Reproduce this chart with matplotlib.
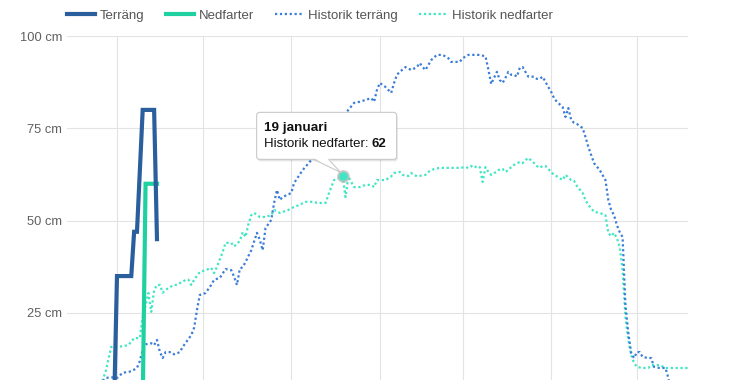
import matplotlib.pyplot as plt
from matplotlib.lines import Line2D
from matplotlib.patches import FancyBboxPatch, Polygon
from matplotlib.transforms import IdentityTransform

plt.rcParams['font.family'] = ['Liberation Sans', 'DejaVu Sans']

# x = days since 1 November (leap-year season), y = snow depth in cm
month_starts = [0, 30, 61, 92, 121, 152, 182]
y_ticks = [25, 50, 75, 100]
y_labels = ['25 cm', '50 cm', '75 cm', '100 cm']

terrang_days = [-1, 0, 5, 6, 7, 9, 13, 14]
terrang_cm = [0, 35, 35, 47, 47, 80, 80, 45]

nedfarter_days = [9, 10, 14]
nedfarter_cm = [0, 60, 60]

hist_terrang_days = [-7, -5, -4, -2, 0, 2, 5, 7, 8, 9, 10, 12, 13, 14, 15, 16, 17, 19, 20, 22,
                     23, 26, 27, 28, 29, 31, 33, 34, 36, 38, 40, 41, 42, 43, 44, 45, 47, 49, 50, 51,
                     52, 54, 55, 56, 57, 58, 61, 62, 65, 68, 70, 75, 81, 83, 85, 87, 89, 90, 91, 92,
                     94, 96, 97, 98, 99, 101, 103, 105, 106, 107, 108, 110, 112, 114, 116, 117, 120, 121, 123, 127,
                     129, 130, 131, 132, 133, 134, 135, 136, 137, 138, 139, 140, 141, 142, 143, 144, 146, 147, 148, 149,
                     150, 151, 152, 153, 154, 156, 157, 158, 159, 160, 161, 163, 164, 165, 166, 167, 169, 171, 172, 173,
                     174, 175, 176, 177, 178, 179, 180, 181, 182, 183, 184, 186, 187, 188, 190, 192, 193, 194]
hist_terrang_cm = [4, 6.5, 7.4, 7.6, 7.4, 8.8, 9.2, 10.1, 12, 15, 16.5, 16.8, 16.3, 17.7, 14.5, 12.8, 14.4, 14.4, 13.8, 14.4,
                   15.8, 19, 21, 25.8, 29.9, 30.4, 32.6, 34, 34.5, 36.9, 36.6, 34.8, 32.6, 37, 37.4, 38.8, 42, 46.7, 44.8, 42,
                   48, 50.2, 54.8, 58.3, 55.6, 56.4, 57.5, 60.2, 63.7, 66.4, 68, 74, 80, 81.9, 82.2, 82.7, 83.2, 82.2, 85.4, 87.3,
                   86.2, 84.6, 87.3, 89.5, 90.3, 91.6, 90.8, 91.6, 92.7, 91.6, 90.8, 93.5, 94.9, 94.9, 94, 93, 93, 94, 94.9, 94.9,
                   94.5, 91, 87, 88.7, 90.3, 88.1, 87.3, 88.7, 90.3, 89.5, 89.5, 89, 91.4, 91.6, 90.3, 89, 89, 88.4, 88.4, 89,
                   87.6, 86.2, 84.9, 83.2, 82.2, 80.8, 78.1, 80.5, 77.3, 76.5, 76.2, 75.1, 72.7, 70, 67.8, 65.6, 63.7, 61, 55.6, 52.9,
                   51.5, 48.8, 46.9, 45.6, 27, 19.6, 14.2, 12.8, 14.4, 14.4, 13.1, 12.8, 12.8, 10.4, 10.1, 10.1, 7.5, 3]

hist_nedfarter_days = [-6, -4, -3, -2, 0, 2, 4, 6, 8, 9, 10, 11, 12, 13, 14, 15, 16, 18, 20, 21,
                       22, 23, 24, 25, 26, 27, 29, 31, 33, 34, 35, 37, 38, 40, 41, 43, 44, 45, 46, 47,
                       48, 50, 52, 54, 55, 57, 60, 61, 64, 66, 69, 70, 73, 75, 76, 78, 79, 80, 81, 82,
                       83, 85, 87, 89, 90, 91, 94, 96, 97, 99, 100, 102, 103, 105, 108, 109, 111, 113, 117, 120,
                       122, 123, 124, 125, 126, 127, 128, 129, 130, 131, 132, 133, 134, 135, 136, 137, 138, 139, 141, 142,
                       143, 144, 146, 147, 148, 149, 150, 152, 153, 154, 156, 157, 159, 160, 161, 163, 164, 165, 167, 169,
                       171, 172, 173, 174, 175, 176, 177, 178, 179, 180, 181, 182, 184, 186, 187, 190, 192, 201]
hist_nedfarter_cm = [5, 9, 12.5, 15.8, 15.8, 16, 16.3, 18.2, 18.2, 24, 27, 30.4, 25.3, 31.2, 32.6, 32.6, 30.5, 31.8, 32.6, 32.6,
                     33.1, 33.4, 34, 34, 32.6, 34, 36.1, 36.6, 37.2, 35.8, 37.5, 41.5, 44, 44, 43, 44.5, 46.9, 45.6, 49, 51.5,
                     52.1, 51, 51, 51.5, 52.9, 52.1, 52.9, 53.4, 54.3, 55.1, 55.1, 54.8, 54.8, 59.1, 61, 61.6, 62, 56.4, 62, 60.5,
                     59.1, 59.1, 59.7, 59.7, 59.1, 61, 61, 62, 62.9, 63.2, 62.4, 62.1, 62.9, 62, 62.4, 63.2, 64, 64.3, 64.3, 64.3,
                     64.5, 64.3, 64.8, 64.3, 64.8, 64.5, 60.5, 64.5, 63.2, 62.4, 62.9, 63.2, 64, 64, 63.2, 63.7, 64.5, 65.1, 65.9, 65.6,
                     66.4, 67, 65.6, 64.8, 64.3, 64.8, 64.8, 63.2, 62.4, 62, 61, 62.4, 61, 60.8, 59.4, 57.5, 55.6, 54.3, 52.4, 52.1,
                     51.5, 46.7, 45.8, 46.7, 45.3, 42.9, 36.6, 24, 17.7, 13.6, 11.5, 10.4, 10.1, 10.1, 10.9, 10.9, 10.1, 10.1]

tooltip_day = 79
tooltip_title = '19 januari'
tooltip_label = 'Historik nedfarter:'

c_terrang = '#2b5e9c'
c_nedfarter = '#1fd0a0'
c_hist_terrang = '#3b7dd6'
c_hist_nedfarter = '#3ee6c4'
dots = (0, (1, 1.2))

fig = plt.figure(figsize=(7.5, 3.8), dpi=100)
ax = fig.add_axes([67 / 750, 0, 621 / 750, 344.5 / 380])

l4, = ax.plot(hist_nedfarter_days, hist_nedfarter_cm, color=c_hist_nedfarter, lw=1.6, ls=dots, zorder=2)
l3, = ax.plot(hist_terrang_days, hist_terrang_cm, color=c_hist_terrang, lw=1.6, ls=dots, zorder=3)
l2, = ax.plot(nedfarter_days, nedfarter_cm, color=c_nedfarter, lw=3, zorder=4, solid_joinstyle='miter')
l1, = ax.plot(terrang_days, terrang_cm, color=c_terrang, lw=3, zorder=5, solid_joinstyle='miter')

ax.set_xlim(-17.5, 199.9)
ax.set_ylim(6.85, 100.15)
ax.set_xticks(month_starts)
ax.set_yticks(y_ticks, y_labels)
ax.grid(True, color='#e3e3e3', lw=0.8)
ax.set_axisbelow(True)
ax.tick_params(length=0, labelbottom=False)
ax.tick_params(axis='y', labelsize=9.3, labelcolor='#606060', pad=3.6)
for s in ax.spines.values():
    s.set_visible(False)

fig.legend([l1, l2, l3, l4], ['Terräng', 'Nedfarter', 'Historik terräng', 'Historik nedfarter'],
           loc='center left', bbox_to_anchor=(67 / 750, 1 - 16 / 380), ncol=4, frameon=False,
           fontsize=9.5, labelcolor='#555555', handlelength=2.15, handletextpad=0.35,
           columnspacing=1.6, borderpad=0, borderaxespad=0)

# hovered point + tooltip
tip_val = hist_nedfarter_cm[hist_nedfarter_days.index(tooltip_day)]
ax.plot([tooltip_day], [tip_val], 'o', ms=7.5, mfc=c_hist_nedfarter,
        mec=(0.75, 0.75, 0.75, 0.7), mew=1.8, zorder=6, clip_on=False)

px, py = ax.transData.transform((tooltip_day, tip_val))
idt = IdentityTransform()
x0, x1 = px - 86, px + 54
yb, yt = py + 17, py + 64
fig.add_artist(FancyBboxPatch((x0 + 1, yb - 2), x1 - x0, yt - yb, boxstyle='round,pad=0,rounding_size=3',
                              fc=(0, 0, 0, 0.10), ec='none', transform=idt, zorder=7))
fig.add_artist(FancyBboxPatch((x0, yb), x1 - x0, yt - yb, boxstyle='round,pad=0,rounding_size=3',
                              fc='white', ec='#c9c9c9', lw=0.8, transform=idt, zorder=8))
fig.add_artist(Polygon([(px - 29, yb + 1.5), (px - 14, yb + 1.5), (px - 2, py + 4)],
                       fc='white', ec='none', transform=idt, zorder=9))
fig.add_artist(Line2D([px - 29, px - 2, px - 14], [yb, py + 4, yb], color='#c9c9c9', lw=0.8,
                      transform=idt, zorder=9))

fig.text(px - 79, py + 45, tooltip_title, fontsize=9.7, fontweight='bold', color='#111111',
         va='baseline', transform=idt, zorder=10)
t = fig.text(px - 79, py + 29, tooltip_label, fontsize=9.5, color='#111111',
             va='baseline', transform=idt, zorder=10)
bb = t.get_window_extent(fig.canvas.get_renderer())
fig.text(bb.x1 + 3.5, py + 29, '%g' % tip_val, fontsize=9.5, fontweight='bold', color='#111111',
         va='baseline', transform=idt, zorder=10)

fig.savefig('out.png', dpi=100)
